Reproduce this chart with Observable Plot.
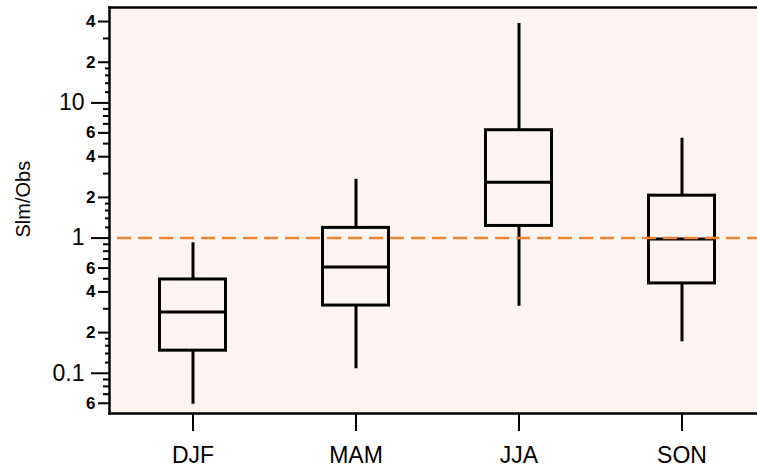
<!DOCTYPE html>
<html><head><meta charset="utf-8">
<script src="https://cdn.jsdelivr.net/npm/d3@7"></script>
<script src="https://cdn.jsdelivr.net/npm/@observablehq/plot@0.6"></script>
<style>html,body{margin:0;padding:0;background:#fff;overflow:hidden;width:757px;height:472px}
#chart{width:757px;height:472px;overflow:hidden}</style>
</head><body><div id="chart"></div>
<script>
// Box statistics per season (ratio Sim/Obs, log scale)
const seasons = ["DJF", "MAM", "JJA", "SON"];
const whiskerLow = [0.059, 0.108, 0.313, 0.171];
const q1 = [0.147, 0.317, 1.23, 0.462];
const median = [0.284, 0.61, 2.59, 0.983];
const q3 = [0.494, 1.19, 6.28, 2.06];
const whiskerHigh = [0.923, 2.72, 38.7, 5.48];
const referenceValue = [1];
const yDomain = [0.0504, 50.8];

// Y axis ticks
const majorTicks = [0.1, 1, 10];
const majorLabels = ["0.1", "1", "10"];
const labeledMinorTicks = [0.06, 0.2, 0.4, 0.6, 2, 4, 6, 20, 40];
const labeledMinorLabels = ["6", "2", "4", "6", "2", "4", "6", "2", "4"];
const mediumTicks = [0.07, 0.08, 0.09, 0.3, 0.5, 0.7, 0.8, 0.9, 3, 5, 7, 8, 9, 30];
const smallTicks = [0.12, 0.14, 0.16, 0.18, 1.2, 1.4, 1.6, 1.8, 12, 14, 16, 18];
const yTitle = ["Slm/Obs"];

const rows = seasons.map((s, i) => ({
  season: s, low: whiskerLow[i], q1: q1[i], median: median[i], q3: q3[i], high: whiskerHigh[i]
}));

const FONT = "'Liberation Sans', Arial, Helvetica, sans-serif";
const boxInset = 48.5;
const orange = "#EE8533";
const W = 757, ML = 109, XEND = 764;

const chart = Plot.plot({
  width: W,
  height: 472,
  marginLeft: ML,
  marginRight: 0,
  marginTop: 7,
  marginBottom: 59,
  style: {fontFamily: FONT, background: "white", color: "black", overflow: "hidden", maxWidth: "none"},
  x: {type: "band", domain: seasons, padding: 0, range: [ML, XEND], label: null},
  y: {type: "log", domain: yDomain, label: null},
  marks: [
    Plot.frame({fill: "#FDF3F1", stroke: "none"}),
    Plot.ruleX(rows, {x: "season", y1: "low", y2: "q1", stroke: "black", strokeWidth: 3}),
    Plot.ruleX(rows, {x: "season", y1: "q3", y2: "high", stroke: "black", strokeWidth: 3}),
    Plot.barY(rows, {x: "season", y1: "q1", y2: "q3", fill: "none", stroke: "black", strokeWidth: 3,
      insetLeft: boxInset, insetRight: boxInset}),
    Plot.tickY(rows, {x: "season", y: "median", stroke: "black", strokeWidth: 3,
      insetLeft: boxInset, insetRight: boxInset}),
    Plot.ruleY(referenceValue, {y: d => d, stroke: orange, strokeWidth: 2.5, strokeDasharray: "14,7", strokeDashoffset: -8}),
    Plot.frame({anchor: "left", stroke: "black", strokeWidth: 2.5}),
    Plot.frame({anchor: "top", stroke: "black", strokeWidth: 2.5}),
    Plot.frame({anchor: "bottom", stroke: "black", strokeWidth: 2.5}),
    // Y axis
    Plot.axisY({ticks: smallTicks, tickSize: 4, text: null, strokeWidth: 2, label: null}),
    Plot.axisY({ticks: mediumTicks, tickSize: 6, text: null, strokeWidth: 2, label: null}),
    Plot.axisY({ticks: labeledMinorTicks, tickSize: 11, tickPadding: 3, strokeWidth: 2,
      text: d => labeledMinorLabels[labeledMinorTicks.indexOf(d)],
      fontSize: 17, fontWeight: "bold", fill: "black", label: null}),
    Plot.axisY({ticks: majorTicks, tickSize: 18, tickPadding: 7, strokeWidth: 2,
      text: d => majorLabels[majorTicks.indexOf(d)],
      fontSize: 23, fill: "black", label: null}),
    // X axis
    Plot.axisX({tickSize: 18, tickPadding: 15, strokeWidth: 2, fontSize: 23, fill: "black", label: null}),
    // Y title
    Plot.text(yTitle, {text: d => d, frameAnchor: "left", dx: -86, dy: 27, rotate: -90,
      fontSize: 20, fill: "black"})
  ]
});
document.getElementById("chart").appendChild(chart);
</script>
</body></html>
